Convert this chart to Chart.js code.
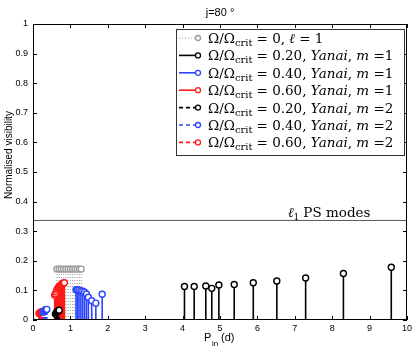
<!DOCTYPE html>
<html>
<head>
<meta charset="utf-8">
<script src="https://cdn.jsdelivr.net/npm/chart.js@4.4.0/dist/chart.umd.min.js"></script>
<style>
  html, body { margin: 0; padding: 0; background: #fff; }
  #wrap { width: 415px; height: 351px; }
</style>
</head>
<body>
<div id="wrap"><canvas id="c" width="415" height="351"></canvas></div>
<script>
// periods (d) and visibilities
const pL1 = [0.64, 0.70, 0.76, 0.82, 0.88, 0.94, 1.00, 1.06, 1.12, 1.18, 1.24, 1.29];
const vL1 = [0.172, 0.172, 0.172, 0.172, 0.172, 0.172, 0.172, 0.172, 0.172, 0.172, 0.172, 0.172];

const pBlack1 = [4.05, 4.31, 4.62, 4.78, 4.97, 5.38, 5.89, 6.52, 7.29, 8.30, 9.58];
const vBlack1 = [0.113, 0.113, 0.115, 0.107, 0.118, 0.120, 0.126, 0.132, 0.142, 0.157, 0.178];

const pBlue1 = [1.15, 1.19, 1.23, 1.28, 1.33, 1.38, 1.43, 1.48, 1.57, 1.68, 1.85];
const vBlue1 = [0.102, 0.102, 0.101, 0.099, 0.097, 0.094, 0.088, 0.077, 0.065, 0.057, 0.087];

const pRed1 = [0.58, 0.60, 0.62, 0.64, 0.66, 0.68, 0.70, 0.72, 0.74, 0.76, 0.78, 0.80, 0.82, 0.84];
const vRed1 = [0.084, 0.088, 0.095, 0.102, 0.107, 0.110, 0.113, 0.116, 0.118, 0.120, 0.122, 0.124, 0.125, 0.126];

const pBlack2 = [0.60, 0.62, 0.64, 0.66, 0.68, 0.70];
const vBlack2 = [0.020, 0.024, 0.028, 0.030, 0.032, 0.033];

const pBlue2 = [0.27, 0.29, 0.31, 0.33, 0.35, 0.37];
const vBlue2 = [0.026, 0.030, 0.032, 0.034, 0.035, 0.036];

const pRed2 = [0.16, 0.18, 0.20, 0.22, 0.24, 0.26];
const vRed2 = [0.022, 0.024, 0.026, 0.027, 0.028, 0.028];

const psLevel = 0.338;
const xTicks = [0, 1, 2, 3, 4, 5, 6, 7, 8, 9, 10];
const yTicks = [0, 0.1, 0.2, 0.3, 0.4, 0.5, 0.6, 0.7, 0.8, 0.9, 1];

const legendRows = [
  { val: "0", tail: [["ℓ", true], [" = 1", false]] },
  { val: "0.20", tail: [["Yanai", true], [", ", false], ["m", true], [" =1", false]] },
  { val: "0.40", tail: [["Yanai", true], [", ", false], ["m", true], [" =1", false]] },
  { val: "0.60", tail: [["Yanai", true], [", ", false], ["m", true], [" =1", false]] },
  { val: "0.20", tail: [["Yanai", true], [", ", false], ["m", true], [" =2", false]] },
  { val: "0.40", tail: [["Yanai", true], [", ", false], ["m", true], [" =2", false]] },
  { val: "0.60", tail: [["Yanai", true], [", ", false], ["m", true], [" =2", false]] }
];

const BLUE = "#2b44ff";
const RED = "#ff1a1a";
const GREY = "#9a9a9a";
const SERIF = "'DejaVu Serif'";

function pts(p, v) {
  return p.map((x, i) => ({ x: x, y: v[i] }));
}

function ds(p, v, color, dash, lw) {
  return {
    data: pts(p, v),
    showLine: false,
    borderColor: color,
    backgroundColor: "#fff",
    pointRadius: 3,
    pointBorderWidth: 1.4,
    stemDash: dash,
    stemWidth: lw
  };
}

const datasets = [
  ds(pL1, vL1, GREY, [1, 2], 1),
  ds(pBlack1, vBlack1, "#000", [], 1.6),
  ds(pBlue1, vBlue1, BLUE, [], 1.6),
  ds(pRed1, vRed1, RED, [], 1.6),
  ds(pBlack2, vBlack2, "#000", [3, 2], 1.6),
  ds(pBlue2, vBlue2, BLUE, [3, 2], 1.6),
  ds(pRed2, vRed2, RED, [3, 2], 1.6)
];

// vertical stems from each point down to zero
const stems = {
  id: "stems",
  beforeDatasetsDraw(chart) {
    const ctx = chart.ctx;
    const y0 = chart.scales.y.getPixelForValue(0);
    chart.data.datasets.forEach((d, i) => {
      const meta = chart.getDatasetMeta(i);
      ctx.save();
      ctx.strokeStyle = d.borderColor;
      ctx.lineWidth = d.stemWidth;
      ctx.setLineDash(d.stemDash);
      meta.data.forEach(pt => {
        ctx.beginPath();
        ctx.moveTo(pt.x, y0);
        ctx.lineTo(pt.x, pt.y);
        ctx.stroke();
      });
      ctx.restore();
    });
  }
};

// matlab style box, inward ticks, PS line, title, labels and legend
const deco = {
  id: "deco",
  beforeDatasetsDraw(chart) {
    const ctx = chart.ctx;
    const a = chart.chartArea;
    const ys = chart.scales.y;
    ctx.save();
    // ps modes line
    const yp = ys.getPixelForValue(psLevel);
    ctx.strokeStyle = "#555";
    ctx.lineWidth = 1;
    ctx.beginPath();
    ctx.moveTo(a.left, yp + 0.5);
    ctx.lineTo(a.right, yp + 0.5);
    ctx.stroke();
    ctx.fillStyle = "#000";
    ctx.textBaseline = "alphabetic";
    let x = 288;
    ctx.font = "italic 13.5px " + SERIF;
    ctx.fillText("ℓ", x, yp - 3);
    x += ctx.measureText("ℓ").width;
    ctx.font = "9px " + SERIF;
    ctx.fillText("1", x, yp);
    x += ctx.measureText("1").width + 4;
    ctx.font = "13.5px " + SERIF;
    ctx.fillText("PS modes", x, yp - 3);
    ctx.restore();
  },
  afterDraw(chart) {
    const ctx = chart.ctx;
    const a = chart.chartArea;
    const xs = chart.scales.x, ys = chart.scales.y;
    ctx.save();
    ctx.strokeStyle = "#000";
    ctx.lineWidth = 1;
    ctx.strokeRect(a.left + 0.5, a.top + 0.5, a.right - a.left - 1, a.bottom - a.top - 1);
    ctx.beginPath();
    xTicks.forEach(t => {
      const px = Math.round(xs.getPixelForValue(t)) + 0.5;
      ctx.moveTo(px, a.bottom); ctx.lineTo(px, a.bottom - 4);
      ctx.moveTo(px, a.top); ctx.lineTo(px, a.top + 4);
    });
    yTicks.forEach(t => {
      const py = Math.round(ys.getPixelForValue(t)) + 0.5;
      ctx.moveTo(a.left, py); ctx.lineTo(a.left + 4, py);
      ctx.moveTo(a.right, py); ctx.lineTo(a.right - 4, py);
    });
    ctx.stroke();

    // title
    ctx.fillStyle = "#000";
    ctx.font = "11px 'Liberation Sans'";
    ctx.textAlign = "center";
    ctx.textBaseline = "middle";
    ctx.fillText("j=80 °", 220, 13);

    // y label
    ctx.save();
    ctx.translate(9, 155);
    ctx.rotate(-Math.PI / 2);
    ctx.font = "10px 'Liberation Sans'";
    ctx.fillText("Normalised visibility", 0, 0);
    ctx.restore();

    // x label
    ctx.textAlign = "left";
    ctx.textBaseline = "alphabetic";
    ctx.font = "11px 'Liberation Sans'";
    ctx.fillText("P", 204, 341);
    ctx.font = "8px 'Liberation Sans'";
    ctx.fillText("in", 212, 346);
    ctx.font = "11px 'Liberation Sans'";
    ctx.fillText("(d)", 221, 341);

    // legend
    const lx = 176, ly = 29, lw = 228, lh = 126;
    ctx.fillStyle = "#fff";
    ctx.fillRect(lx, ly, lw, lh);
    ctx.strokeStyle = "#333";
    ctx.strokeRect(lx + 0.5, ly + 0.5, lw, lh);
    legendRows.forEach((r, i) => {
      const d = chart.data.datasets[i];
      const cy = 38 + i * 17.4;
      ctx.save();
      ctx.strokeStyle = d.borderColor;
      ctx.lineWidth = d.stemWidth;
      ctx.setLineDash(d.stemDash.length ? (i === 0 ? [1, 2] : [4, 3]) : []);
      ctx.beginPath();
      ctx.moveTo(179, cy); ctx.lineTo(196, cy);
      ctx.stroke();
      ctx.setLineDash([]);
      ctx.lineWidth = 1.3;
      ctx.fillStyle = "#fff";
      ctx.beginPath();
      ctx.arc(198, cy, 2.5, 0, Math.PI * 2);
      ctx.fill(); ctx.stroke();
      ctx.restore();

      ctx.fillStyle = "#000";
      const base = cy + 5;
      let x = 208;
      ctx.font = "13.5px " + SERIF;
      ctx.fillText("Ω/Ω", x, base);
      x += ctx.measureText("Ω/Ω").width;
      ctx.font = "10px " + SERIF;
      ctx.fillText("crit", x, base + 3);
      x += ctx.measureText("crit").width + 4;
      ctx.font = "13.5px " + SERIF;
      const s = "= " + r.val + ", ";
      ctx.fillText(s, x, base);
      x += ctx.measureText(s).width;
      r.tail.forEach(([t, it]) => {
        ctx.font = (it ? "italic " : "") + "13.5px " + SERIF;
        ctx.fillText(t, x, base);
        x += ctx.measureText(t).width;
      });
    });
    ctx.restore();
  }
};

new Chart(document.getElementById("c"), {
  type: "scatter",
  data: { datasets: datasets },
  plugins: [stems, deco],
  options: {
    responsive: false,
    animation: false,
    layout: { padding: { top: 24, right: 8, bottom: 0, left: 0 } },
    plugins: { legend: { display: false }, tooltip: { enabled: false }, title: { display: false } },
    scales: {
      x: {
        type: "linear",
        min: 0,
        max: 10,
        afterBuildTicks: s => { s.ticks = xTicks.map(v => ({ value: v })); },
        afterFit: s => { s.height = 31; },
        grid: { display: false, drawTicks: false },
        border: { display: false },
        ticks: { color: "#000", font: { family: "Liberation Sans", size: 9 }, padding: 3, maxRotation: 0 }
      },
      y: {
        min: 0,
        max: 1,
        afterBuildTicks: s => { s.ticks = yTicks.map(v => ({ value: v })); },
        afterFit: s => { s.width = 33; },
        grid: { display: false, drawTicks: false },
        border: { display: false },
        ticks: { color: "#000", font: { family: "Liberation Sans", size: 9 }, padding: 5, callback: v => String(+v.toFixed(1)) }
      }
    }
  }
});
</script>
</body>
</html>
